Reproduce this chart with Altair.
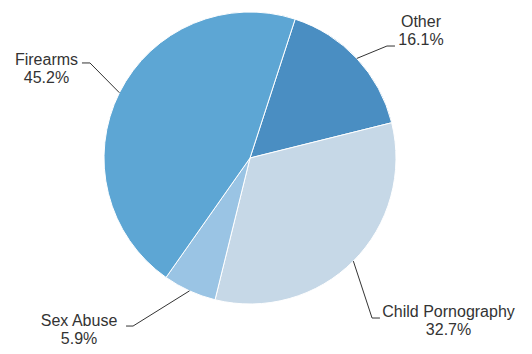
import math
import altair as alt
import pandas as pd

# ---- data ----
categories = ["Other", "Child Pornography", "Sex Abuse", "Firearms"]
percents = [16.1, 32.7, 5.9, 45.2]
colors = ["#4a8ec2", "#c6d8e7", "#9ac4e4", "#5da6d4"]

# label layout (units of pie radius, relative to pie centre, y up)
elbow_x = [0.938, 0.836, -0.801, -1.096]
elbow_y = [0.767, -1.096, -1.151, 0.651]
end_x = [0.993, 0.890, -0.849, -1.151]
end_y = [0.767, -1.096, -1.151, 0.651]
label_x = [1.171, 1.360, -1.171, -1.394]
label_y = [0.934, -1.053, -1.116, 0.671]

START_DEG = 18.0
RADIUS = 146
W, H = 516, 338
CX, CY = 242, 150

start = math.radians(START_DEG)
total = sum(percents)

pie = pd.DataFrame({
    "cat": categories,
    "val": percents,
    "ord": list(range(len(categories))),
})

# leader lines
rows = []
labels = []
cum = 0.0
for i, (c, v) in enumerate(zip(categories, percents)):
    mid = start + 2 * math.pi * (cum + v / 2) / total
    cum += v
    ex, ey = math.sin(mid), math.cos(mid)
    rows.append({"cat": c, "p": 0, "x": ex, "y": ey})
    rows.append({"cat": c, "p": 1, "x": elbow_x[i], "y": elbow_y[i]})
    rows.append({"cat": c, "p": 2, "x": end_x[i], "y": end_y[i]})
    labels.append({"cat": c, "x": label_x[i], "y": label_y[i],
                   "txt": f"{c}\n{v:.1f}%"})
lines = pd.DataFrame(rows)
labs = pd.DataFrame(labels)

xs = alt.Scale(domain=[-CX / RADIUS, (W - CX) / RADIUS], nice=False, zero=False)
ys = alt.Scale(domain=[-(H - CY) / RADIUS, CY / RADIUS], nice=False, zero=False)

arc = alt.Chart(pie).mark_arc(outerRadius=RADIUS, stroke="white", strokeWidth=1).encode(
    theta=alt.Theta("val:Q", stack=True,
                    scale=alt.Scale(range=[start, start + 2 * math.pi])),
    order=alt.Order("ord:Q"),
    color=alt.Color("cat:N", scale=alt.Scale(domain=categories, range=colors), legend=None),
    x=alt.XDatum(0, scale=xs, axis=None),
    y=alt.YDatum(0, scale=ys, axis=None),
)

line = alt.Chart(lines).mark_line(color="#333333", strokeWidth=1).encode(
    x=alt.X("x:Q", scale=xs, axis=None),
    y=alt.Y("y:Q", scale=ys, axis=None),
    detail="cat:N",
    order="p:Q",
)

text = alt.Chart(labs).mark_text(
    font="Liberation Sans", fontSize=16, color="#333333",
    lineBreak="\n", lineHeight=18, align="center", baseline="middle",
).encode(
    x=alt.X("x:Q", scale=xs, axis=None),
    y=alt.Y("y:Q", scale=ys, axis=None),
    text="txt:N",
)

chart = alt.layer(arc, line, text).properties(
    width=W, height=H, padding=0,
    autosize=alt.AutoSizeParams(type="none"),
).configure_view(stroke=None)

chart.save("out.html", embed_options={"renderer": "svg", "actions": False})
